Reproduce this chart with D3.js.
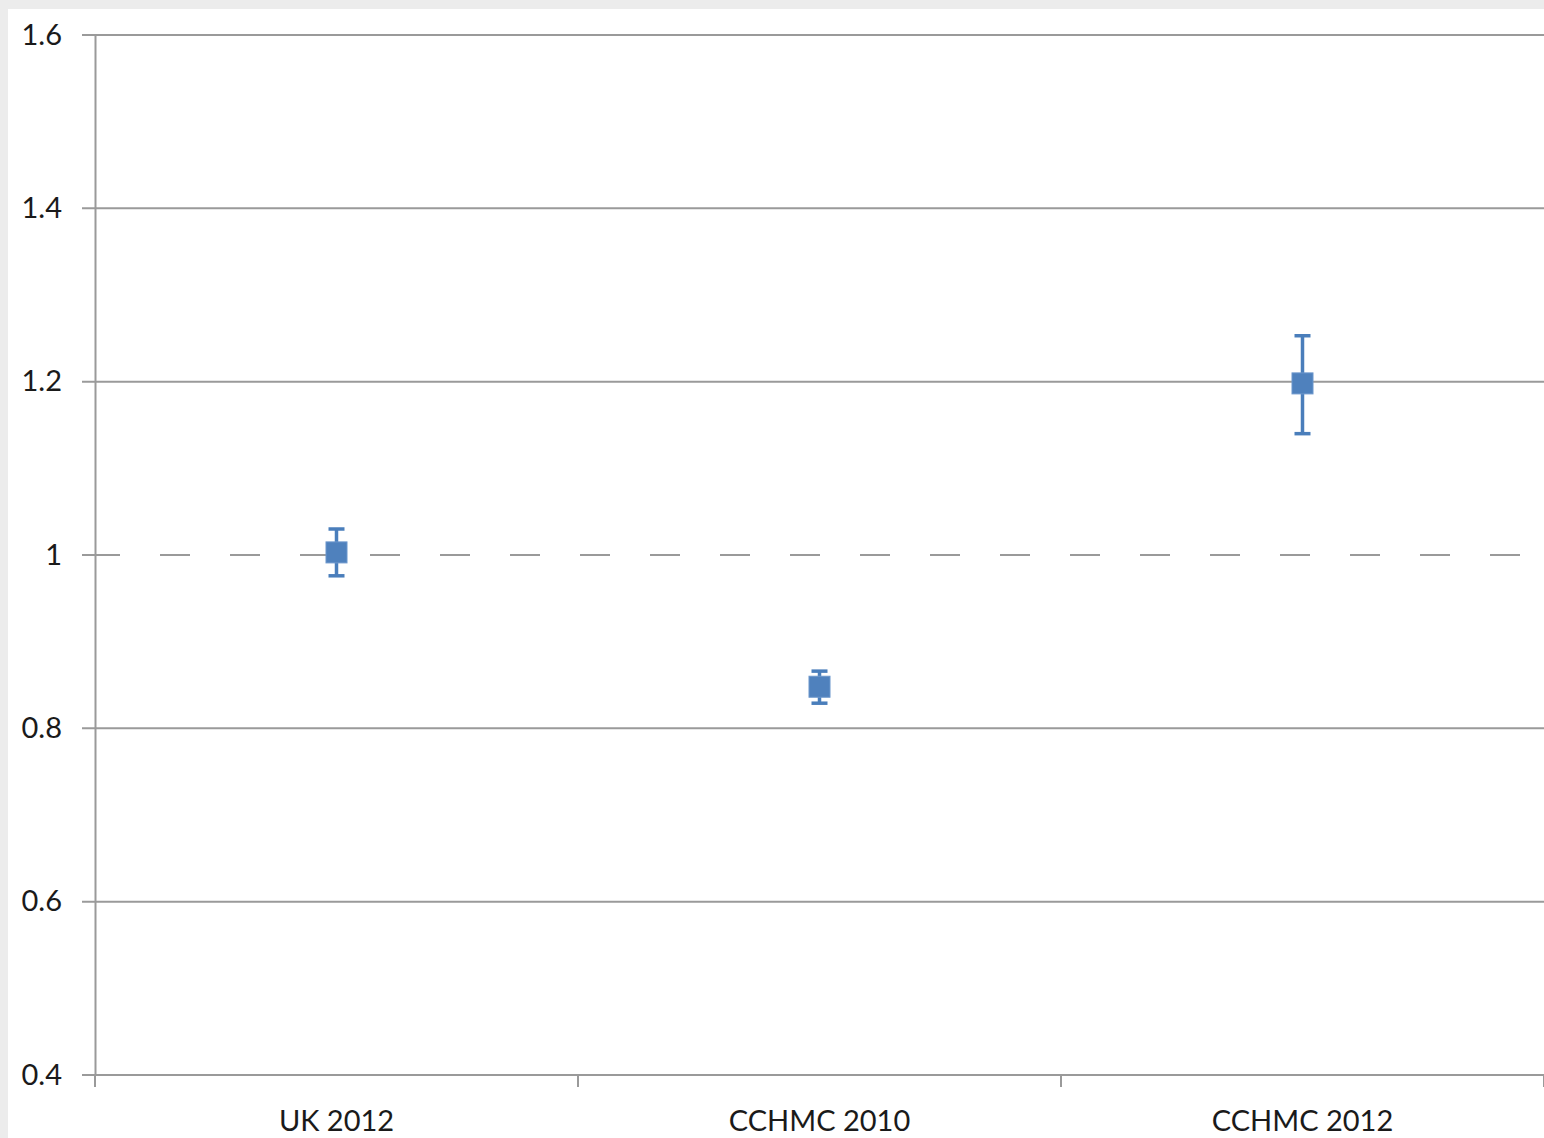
<!DOCTYPE html>
<html>
<head>
<meta charset="utf-8">
<script src="https://cdn.jsdelivr.net/npm/d3@7"></script>
<style>
  html, body { margin: 0; padding: 0; background: #ececec; }
  svg { display: block; }
</style>
</head>
<body>
<svg id="chart" width="1544" height="1138"></svg>
<script>
// Ratio estimates with confidence limits per cohort
const categories = ["UK 2012", "CCHMC 2010", "CCHMC 2012"];
const estimates = [1.003, 0.848, 1.198];
const lowerCI = [0.976, 0.829, 1.140];
const upperCI = [1.030, 0.866, 1.253];
const yTicks = [0.4, 0.6, 0.8, 1, 1.2, 1.4, 1.6];
const referenceValue = 1;

const W = 1544, H = 1138;
const margin = { left: 95, right: 0, top: 35, bottom: 63 };
const svg = d3.select("#chart");
const font = "Lato, 'Open Sans', sans-serif";
const gridColor = "#9a9a9a";
const blue = "#4a7ebb";

// white plotting panel
svg.append("rect").attr("x", 8).attr("y", 9).attr("width", W - 8).attr("height", H - 9).attr("fill", "#fff");

const x = d3.scaleBand().domain(categories).range([margin.left, W - margin.right]);
const y = d3.scaleLinear().domain([0.4, 1.6]).range([H - margin.bottom, margin.top]);

// horizontal gridlines (solid, except the reference value)
svg.append("g").selectAll("line")
  .data(yTicks.filter(v => v !== referenceValue))
  .join("line")
  .attr("x1", margin.left - 13).attr("x2", W)
  .attr("y1", d => y(d)).attr("y2", d => y(d))
  .attr("stroke", gridColor).attr("stroke-width", 2);

// tick stub at the reference value and dashed reference line
svg.append("line")
  .attr("x1", margin.left - 13).attr("x2", margin.left)
  .attr("y1", y(referenceValue)).attr("y2", y(referenceValue))
  .attr("stroke", gridColor).attr("stroke-width", 2);
svg.append("line")
  .attr("x1", margin.left - 5).attr("x2", W)
  .attr("y1", y(referenceValue)).attr("y2", y(referenceValue))
  .attr("stroke", gridColor).attr("stroke-width", 2)
  .attr("stroke-dasharray", "30,40");

// y axis
const yAxis = svg.append("g")
  .attr("transform", `translate(${margin.left},0)`)
  .call(d3.axisLeft(y).tickValues(yTicks).tickFormat(d => String(d)).tickSize(0).tickPadding(33));
yAxis.select(".domain").attr("stroke", gridColor).attr("stroke-width", 2);
yAxis.selectAll("text").attr("font-family", font).attr("font-size", 29).attr("fill", "#1a1a1a");

// x axis with ticks on band boundaries
const xAxisG = svg.append("g").attr("transform", `translate(0,${y(0.4)})`);
xAxisG.append("line").attr("x1", margin.left).attr("x2", W)
  .attr("stroke", gridColor).attr("stroke-width", 2);
const boundaries = categories.map(c => x(c)).concat([x(categories[categories.length - 1]) + x.bandwidth()]);
xAxisG.selectAll(".bt").data(boundaries).join("line").attr("class", "bt")
  .attr("x1", d => d).attr("x2", d => d).attr("y1", 0).attr("y2", 12)
  .attr("stroke", gridColor).attr("stroke-width", 2);
xAxisG.selectAll("text").data(categories).join("text")
  .attr("x", d => x(d) + x.bandwidth() / 2).attr("y", 56)
  .attr("text-anchor", "middle")
  .attr("font-family", font).attr("font-size", 29).attr("fill", "#1a1a1a")
  .text(d => d);

// error bars
const cx = i => x(categories[i]) + x.bandwidth() / 2;
const eb = svg.append("g").attr("stroke", blue).attr("stroke-width", 3.5).attr("fill", "none");
categories.forEach((c, i) => {
  eb.append("line").attr("x1", cx(i)).attr("x2", cx(i)).attr("y1", y(lowerCI[i])).attr("y2", y(upperCI[i]));
  eb.append("line").attr("x1", cx(i) - 8).attr("x2", cx(i) + 8).attr("y1", y(lowerCI[i])).attr("y2", y(lowerCI[i]));
  eb.append("line").attr("x1", cx(i) - 8).attr("x2", cx(i) + 8).attr("y1", y(upperCI[i])).attr("y2", y(upperCI[i]));
});

// square markers
const s = 21;
svg.append("g").selectAll("rect").data(estimates).join("rect")
  .attr("x", (d, i) => cx(i) - s / 2).attr("y", d => y(d) - s / 2)
  .attr("width", s).attr("height", s)
  .attr("fill", "#4f81bd").attr("stroke", "#6b96cc").attr("stroke-width", 1);
</script>
</body>
</html>
